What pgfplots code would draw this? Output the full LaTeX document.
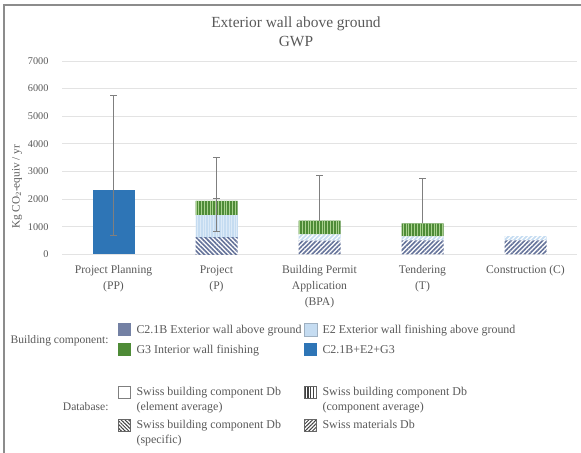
\documentclass[border=0pt]{standalone}
\usepackage{fontspec}
\setmainfont{Liberation Serif}
\usepackage{pgfplots}
\pgfplotsset{compat=1.18}
\usetikzlibrary{patterns.meta}
\definecolor{txtgray}{HTML}{595959}
\definecolor{gridgray}{HTML}{E3E3E3}
\definecolor{errgray}{HTML}{7F7F7F}
\definecolor{slate}{HTML}{65739A}
\definecolor{lblue}{HTML}{C5DCF1}
\definecolor{green3}{HTML}{4E8B37}
\definecolor{lgreen}{HTML}{A9D18E}
\definecolor{ppblue}{HTML}{2E75B6}
\definecolor{framegray}{HTML}{8C8C8C}
\begin{document}
\begin{tikzpicture}[x=1bp,y=1bp]
\useasboundingbox (0,0) rectangle (581,453);
\draw[framegray, line width=1.2bp] (4,0) -- (4,448) -- (581,448);
% title
\node[txtgray, font=\fontsize{15.5}{18}\selectfont, anchor=base] at (296,425) {Exterior wall above ground};
\node[txtgray, font=\fontsize{15.5}{18}\selectfont, anchor=base] at (296,406) {GWP};
% y label
\node[txtgray, font=\fontsize{11.3}{13}\selectfont, rotate=90] at (17,266) {Kg CO$_2$-equiv / yr};
\begin{axis}[
  at={(62bp,198.7bp)}, anchor=south west, scale only axis,
  width=515bp, height=193.3bp,
  xmin=-0.5, xmax=4.5, ymin=0, ymax=7000,
  ybar stacked, bar width=42bp,
  xtick={0,1,2,3,4},
  xticklabels={{Project Planning\\(PP)},{Project\\(P)},{Building Permit\\Application\\(BPA)},{Tendering\\(T)},{Construction (C)}},
  xticklabel style={align=center, text=txtgray, font=\fontsize{11.7}{16.3}\selectfont, yshift=-7.5bp},
  ytick={0,1000,...,7000},
  yticklabel style={text=txtgray, font=\fontsize{10.3}{12}\selectfont, xshift=-10bp},
  /pgf/number format/1000 sep={},
  /pgf/number format/assume math mode=true,
  scaled y ticks=false,
  ymajorgrids, grid style={gridgray, line width=0.7bp},
  axis line style={draw=none}, major tick style={draw=none},
  clip=false,
]
% PP total (element average)
\addplot[fill=ppblue, draw=none] coordinates {(0,2330) (1,0) (2,0) (3,0) (4,0)};
% C2.1B specific
\addplot[fill=white, draw=none, postaction={pattern={Lines[angle=-45,distance=3.2bp,line width=1.6bp]}, pattern color=slate}] coordinates {(0,0) (1,590) (2,0) (3,0) (4,0)};
% C2.1B materials
\addplot[fill=white, draw=none, postaction={pattern={Lines[angle=45,distance=3.2bp,line width=1.6bp]}, pattern color=slate}] coordinates {(0,0) (1,0) (2,495) (3,505) (4,505)};
% E2 component average
\addplot[fill=lblue, draw=none, postaction={pattern={Lines[angle=90,distance=2.6bp,line width=0.6bp]}, pattern color=lblue!60!white}] coordinates {(0,0) (1,830) (2,0) (3,0) (4,0)};
% E2 materials
\addplot[fill=lblue, draw=none, postaction={pattern={Lines[angle=45,distance=3.2bp,line width=1.2bp]}, pattern color=white}] coordinates {(0,0) (1,0) (2,230) (3,145) (4,155)};
% G3 component average
\addplot[fill=green3, draw=none, postaction={pattern={Lines[angle=90,distance=2.8bp,line width=1bp]}, pattern color=lgreen}] coordinates {(0,0) (1,510) (2,495) (3,470) (4,0)};
\end{axis}
\begin{axis}[
  at={(62bp,198.7bp)}, anchor=south west, scale only axis,
  width=515bp, height=193.3bp,
  xmin=-0.5, xmax=4.5, ymin=0, ymax=7000, hide axis, clip=false,
]
% error bar whiskers
\addplot[errgray, line width=0.8bp, mark=none] coordinates {(0,690) (0,5750)};
\addplot[errgray, line width=0.8bp, mark=none] coordinates {(1,845) (1,2040)};
\addplot[errgray, line width=0.8bp, mark=none] coordinates {(1,1930) (1,3520)};
\addplot[errgray, line width=0.8bp, mark=none] coordinates {(2,1220) (2,2860)};
\addplot[errgray, line width=0.8bp, mark=none] coordinates {(3,1120) (3,2765)};
% caps
\addplot[errgray, line width=0.8bp, only marks, mark=-, mark size=3.2bp]
  coordinates {(0,690) (0,5750) (1,845) (1,2040) (1,3520) (2,2860) (3,2765)};
\end{axis}
% legend
\begin{scope}[every node/.style={text=txtgray, font=\fontsize{12}{14}\selectfont}]
\node[anchor=east, font=\fontsize{11.6}{14}\selectfont] at (112,112) {Building component:};
\fill[slate!90!white] (118,116.5) rectangle (131,129.5); \node[anchor=base west] at (133,119) {C2.1B Exterior wall above ground};
\fill[lblue] (304,116.5) rectangle (317,129.5); \draw[lblue!80!black, line width=0.4bp] (304,116.5) rectangle (317,129.5); \node[anchor=base west] at (319,119) {E2 Exterior wall finishing above ground};
\fill[green3] (118,96.5) rectangle (131,109.5); \node[anchor=base west] at (133,99) {G3 Interior wall finishing};
\fill[ppblue] (304,96.5) rectangle (317,109.5); \node[anchor=base west] at (319,99) {C2.1B+E2+G3};
\node[anchor=east, font=\fontsize{11.6}{14}\selectfont] at (112,46) {Database:};
\draw[errgray, line width=0.6bp] (118.5,54.5) rectangle (130.5,66.5);
\node[anchor=base west] at (133,57) {Swiss building component Db};
\node[anchor=base west] at (133,42) {(element average)};
\fill[white] (304.5,54.5) rectangle (316.5,66.5);
\fill[pattern={Lines[angle=90,distance=2.8bp,line width=1.1bp]}, pattern color=black!75] (304.5,54.5) rectangle (316.5,66.5);
\draw[black!60, line width=0.6bp] (304.5,54.5) rectangle (316.5,66.5);
\node[anchor=base west] at (319,57) {Swiss building component Db};
\node[anchor=base west] at (319,42) {(component average)};
\fill[pattern={Lines[angle=-45,distance=2.6bp,line width=1bp]}, pattern color=black!75] (118.5,21.5) rectangle (130.5,33.5);
\draw[black!60, line width=0.6bp] (118.5,21.5) rectangle (130.5,33.5);
\node[anchor=base west] at (133,24) {Swiss building component Db};
\node[anchor=base west] at (133,9) {(specific)};
\fill[pattern={Lines[angle=45,distance=2.6bp,line width=1bp]}, pattern color=black!75] (304.5,21.5) rectangle (316.5,33.5);
\draw[black!60, line width=0.6bp] (304.5,21.5) rectangle (316.5,33.5);
\node[anchor=base west] at (319,24) {Swiss materials Db};
\end{scope}
\end{tikzpicture}
\end{document}
